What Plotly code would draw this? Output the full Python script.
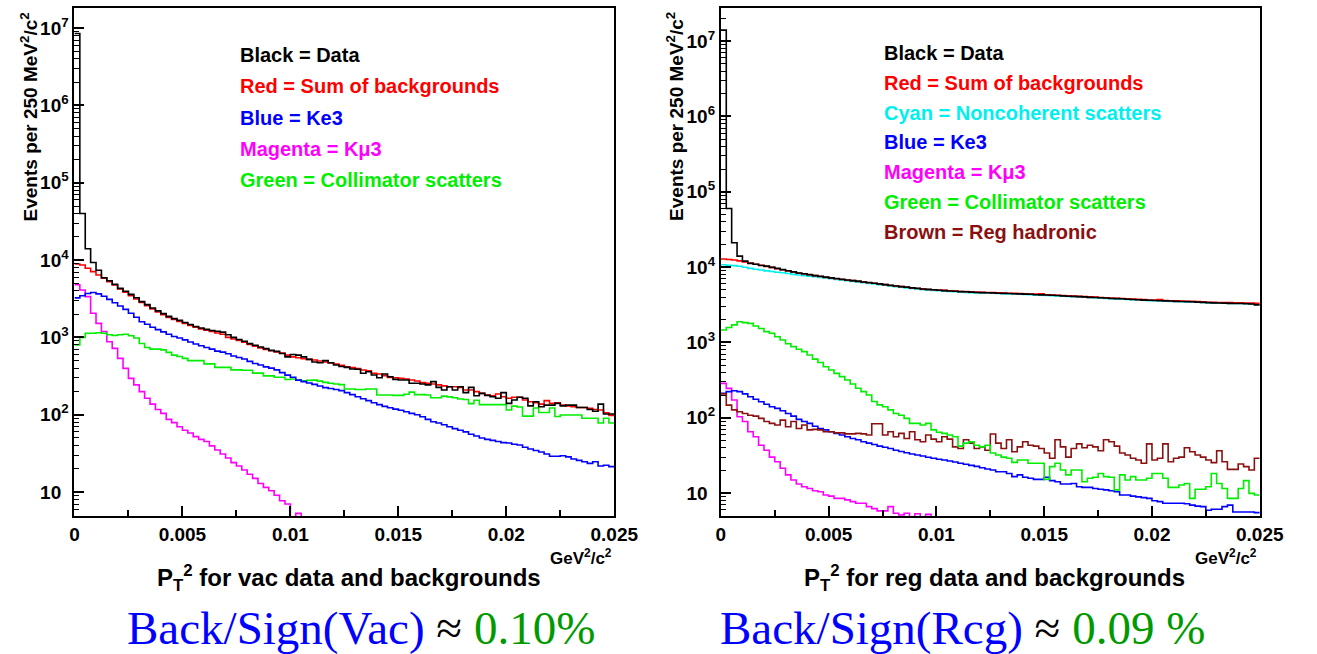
import plotly.graph_objects as go

W, H = 1317, 654
BIN_WIDTH = 0.00025  # 250 MeV^2/c^2 per bin
NBINS = 100

# ---------------- Vacuum beam (left panel) ----------------
vac_data = [8.5e6, 4.0e4, 1.4e4, 9300, 7400, 5900, 5400, 4850, 4300, 3950,
            3600, 3250, 2900, 2650, 2400, 2200, 2030, 1870, 1750, 1660,
            1560, 1470, 1380, 1320, 1270, 1230, 1200, 1170, 1080, 1000,
            940, 890, 830, 790, 750, 715, 680, 660, 620, 560,
            600, 590, 560, 520, 480, 470, 500, 470, 440, 420,
            410, 390, 387, 343, 360, 326, 301, 336, 310, 286,
            281, 281, 255, 255, 250, 243, 268, 226, 209, 230,
            209, 230, 193, 226, 176, 189, 178, 171, 163, 193,
            140, 155, 168, 163, 130, 147, 127, 133, 133, 140,
            130, 133, 133, 124, 124, 117, 111, 137, 102, 102]
vac_sum = [8900, 8650, 7830, 7090, 6420, 5810, 5260, 4760, 4220, 3830,
           3470, 3140, 2840, 2570, 2330, 2130, 1970, 1810, 1710, 1610,
           1520, 1430, 1350, 1290, 1240, 1190, 1140, 1100, 1000, 955,
           910, 865, 810, 770, 730, 700, 672, 648, 625, 590,
           560, 545, 530, 520, 510, 495, 480, 466, 453, 435,
           418, 406, 394, 379, 371, 343, 336, 320, 304, 301,
           295, 290, 281, 273, 260, 255, 250, 243, 236, 230,
           230, 226, 209, 209, 199, 189, 180, 176, 185, 171,
           163, 168, 168, 155, 147, 143, 137, 152, 140, 143,
           133, 130, 127, 124, 124, 121, 117, 115, 106, 98]
vac_ke3 = [3240, 3450, 3700, 3800, 3650, 3400, 3100, 2800, 2550, 2300,
           2050, 1820, 1590, 1480, 1350, 1260, 1180, 1100, 1025, 980,
           930, 870, 820, 780, 740, 705, 665, 645, 615, 575,
           550, 525, 490, 460, 440, 415, 400, 380, 350, 325,
           305, 280, 268, 257, 247, 235, 224, 218, 212, 205,
           193, 182, 171, 161, 152, 143, 135, 128, 123, 118,
           114, 109, 104, 100, 94, 87, 81, 78, 74, 70,
           66, 63, 60, 56, 53, 50, 48, 46.5, 45, 43.5,
           43, 41.5, 40.5, 38, 36, 34.5, 33, 31, 29, 29,
           29.5, 28.5, 26.8, 25.7, 24.6, 23.5, 24.6, 21.7, 22.2, 21.3]
vac_kmu3 = [4800, 4100, 3370, 2050, 1520, 1190, 880, 720, 536, 398,
            295, 243, 199, 163, 137, 117, 104, 87, 79, 70,
            63, 58, 52, 48, 45, 39.5, 35, 31, 27.5, 24,
            21.7, 19.3, 17, 15, 12.9, 11.5, 10.4, 9.1, 7.7, 7.0,
            3, 5.3, 2, 2, 2, 2, 2, 2, 2, 2,
            2, 2, 2, 2, 2, 2, 2, 2, 2, 2,
            2, 2, 2, 2, 2, 2, 2, 2, 2, 2,
            2, 2, 2, 2, 2, 2, 2, 2, 2, 2,
            2, 2, 2, 2, 2, 2, 2, 2, 2, 2,
            2, 2, 2, 2, 2, 2, 2, 2, 2, 2]
vac_coll = [800, 1000, 1130, 1130, 1150, 1130, 1080, 1060, 1080, 1100,
            1050, 980, 835, 740, 705, 705, 690, 640, 590, 565,
            535, 500, 500, 500, 455, 455, 410, 410, 410, 380,
            380, 375, 375, 345, 345, 318, 318, 305, 305, 285,
            290, 280, 275, 278, 280, 272, 262, 255, 250, 245,
            215, 215, 212, 212, 215, 215, 180, 180, 180, 178,
            178, 184, 196, 182, 182, 180, 166, 166, 174, 170,
            166, 160, 157, 139, 154, 135, 135, 135, 135, 135,
            115, 129, 126, 96, 96, 122, 107, 107, 122, 95,
            99, 99, 99, 99, 90, 90, 90, 78, 90, 78]

# ---------------- Regenerator beam (right panel) ----------------
reg_data = [1.4e7, 6.0e4, 2.1e4, 14000, 12000, 11200, 10900, 10500, 10300, 9900,
            9600, 9250, 8950, 8650, 8350, 8150, 7950, 7700, 7550, 7350,
            7200, 7050, 6900, 6750, 6600, 6500, 6350, 6250, 6100, 5980,
            5850, 5750, 5620, 5500, 5420, 5300, 5230, 5120, 5060, 4990,
            4930, 4870, 4820, 4780, 4720, 4700, 4650, 4600, 4580, 4560,
            4550, 4500, 4480, 4460, 4430, 4410, 4380, 4350, 4300, 4270,
            4250, 4230, 4200, 4150, 4100, 4080, 4050, 4020, 3960, 3950,
            3920, 3880, 3830, 3810, 3790, 3740, 3720, 3690, 3640, 3620,
            3600, 3570, 3560, 3540, 3500, 3490, 3480, 3460, 3430, 3400,
            3370, 3350, 3330, 3320, 3300, 3280, 3280, 3260, 3230, 3150]
reg_sum = [12800, 12600, 12400, 12100, 11700, 11300, 10900, 10600, 10200, 9900,
           9500, 9200, 8900, 8600, 8300, 8100, 7900, 7700, 7500, 7300,
           7150, 7000, 6850, 6700, 6600, 6450, 6350, 6200, 6100, 5950,
           5850, 5700, 5600, 5500, 5400, 5300, 5200, 5100, 5050, 5000,
           4950, 4900, 4850, 4800, 4750, 4720, 4680, 4650, 4620, 4600,
           4580, 4550, 4530, 4500, 4480, 4450, 4420, 4400, 4370, 4420,
           4290, 4260, 4230, 4190, 4150, 4120, 4080, 4050, 4020, 3990,
           3950, 3920, 3880, 3850, 3820, 3790, 3760, 3730, 3700, 3660,
           3640, 3700, 3600, 3580, 3560, 3540, 3520, 3500, 3480, 3450,
           3420, 3400, 3390, 3380, 3370, 3360, 3350, 3340, 3320, 3300]
reg_noncoh = [10750, 10600, 10450, 10250, 9950, 9600, 9350, 9150, 8900, 8750,
              8550, 8400, 8200, 8000, 7850, 7700, 7550, 7450, 7300, 7150,
              7000, 6860, 6720, 6570, 6470, 6320, 6220, 6080, 5980, 5830,
              5730, 5590, 5490, 5390, 5290, 5190, 5100, 5000, 4950, 4900,
              4850, 4800, 4750, 4700, 4650, 4620, 4580, 4550, 4520, 4500,
              4490, 4460, 4440, 4410, 4390, 4360, 4330, 4310, 4280, 4240,
              4200, 4170, 4150, 4110, 4070, 4040, 4000, 3970, 3940, 3910,
              3870, 3840, 3800, 3770, 3740, 3710, 3680, 3660, 3630, 3590,
              3570, 3550, 3530, 3510, 3490, 3470, 3450, 3430, 3410, 3380,
              3350, 3330, 3320, 3310, 3300, 3290, 3280, 3270, 3250, 3230]
reg_ke3 = [211, 222, 228, 222, 207, 190, 176, 163, 151, 140,
           133, 124, 114, 105, 95, 89, 84, 77, 72, 69,
           65, 62, 59, 56, 53, 51, 48, 46, 44, 42,
           40.5, 39, 37, 35.6, 34.3, 33, 32, 31, 29.8, 29,
           28.1, 27.4, 26.6, 25.8, 24.8, 24.1, 23.3, 22.6, 21.7, 20.8,
           20.2, 19.2, 19.2, 18.2, 16.5, 17.4, 16.2, 15.7, 15.2, 15.2,
           16.2, 14.6, 14.1, 13.2, 13.2, 13.4, 12.1, 11.9, 11.9, 11.5,
           11.2, 11.0, 10.7, 10.4, 9.4, 9.4, 9.1, 8.9, 8.7, 8.5,
           7.9, 7.7, 7.3, 7.3, 7.3, 7.3, 7.2, 6.9, 6.7, 6.6,
           5.9, 6.1, 6.1, 6.6, 6.9, 5.6, 5.6, 5.6, 5.6, 5.5]
reg_kmu3 = [286, 245, 172, 103, 89, 65, 56, 43, 37, 30,
            26, 21.3, 17.4, 14.9, 13.2, 12.1, 11.5, 10.7, 10.4, 9.4,
            9.1, 8.5, 8.5, 8.1, 7.7, 7.3, 7.3, 6.6, 6.2, 5.8,
            5.8, 6.6, 5.4, 5.1, 5.4, 4, 5.3, 4, 5.2, 4,
            2, 2, 2, 2, 2, 2, 2, 2, 2, 2,
            2, 2, 2, 2, 2, 2, 2, 2, 2, 2,
            2, 2, 2, 2, 2, 2, 2, 2, 2, 2,
            2, 2, 2, 2, 2, 2, 2, 2, 2, 2,
            2, 2, 2, 2, 2, 2, 2, 2, 2, 2,
            2, 2, 2, 2, 2, 2, 2, 2, 2, 2]
reg_coll = [1460, 1580, 1710, 1880, 1830, 1790, 1650, 1530, 1390, 1320,
            1190, 1077, 960, 878, 810, 755, 680, 600, 540, 476,
            430, 388, 351, 317, 280, 246, 222, 200, 164, 148,
            140, 127, 114, 108, 98, 84, 84, 80, 84, 69,
            64, 62, 59, 56, 42, 46, 48, 43, 41, 43,
            34, 32, 30, 29, 25.5, 27.4, 27.4, 24.8, 24.8, 24.8,
            15.2, 22.4, 24.8, 20.2, 17.4, 20.2, 20.2, 14.1, 15.7, 16.2,
            18.2, 16.5, 16.2, 11.0, 17.4, 14.9, 16.5, 14.9, 14.9, 15.7,
            18.2, 18.2, 15.7, 11.9, 11.9, 12.8, 13.4, 8.5, 11.2, 11.2,
            12.1, 18.2, 13.4, 11.5, 8.5, 8.5, 11.5, 14.6, 9.9, 9.4]
reg_hadronic = [207, 147, 127, 120, 114, 108, 105, 98, 89, 84,
                80, 93, 76, 89, 72, 80, 69, 70, 69, 65,
                65, 63, 63, 61, 61, 62, 61, 59, 83, 83,
                59, 65, 56, 62, 53, 65, 51, 48, 59, 52,
                48, 56, 52, 41, 39, 51, 46, 39, 41, 37,
                60.8, 46, 39, 51, 35.4, 41, 48, 43, 42, 39,
                34, 29, 51, 41, 30, 39, 45, 40, 43, 41,
                36.5, 51, 48, 42, 34, 32, 29, 27.4, 24.8, 45,
                27.4, 29, 45, 26, 29, 30, 40, 35.4, 32, 30,
                27.4, 25.3, 36.5, 26, 20.6, 20.6, 24.3, 22.4, 20.2, 29]

x_ticks = [0, 0.005, 0.01, 0.015, 0.02, 0.025]
x_ticklabels = ["0", "0.005", "0.01", "0.015", "0.02", "0.025"]
x_minor = [0.0025, 0.0075, 0.0125, 0.0175, 0.0225]
y_ticks = [10, 100, 1e3, 1e4, 1e5, 1e6, 1e7]
y_ticklabels = ["10<sup><span style='color:rgba(0,0,0,0)'>0</span></sup>",
                "10<sup>2</sup>", "10<sup>3</sup>", "10<sup>4</sup>",
                "10<sup>5</sup>", "10<sup>6</sup>", "10<sup>7</sup>"]
y_minor = [m * 10 ** k for k in range(0, 8) for m in range(2, 10)]

vac_legend = [("Black = Data", "#000000"),
              ("Red = Sum of backgrounds", "#ff0000"),
              ("Blue = Ke3", "#0000ff"),
              ("Magenta = K\u03bc3", "#ff00ff"),
              ("Green = Collimator scatters", "#00ee00")]
reg_legend = [("Black = Data", "#000000"),
              ("Red = Sum of backgrounds", "#ff0000"),
              ("Cyan = Noncoherent scatters", "#00f0f0"),
              ("Blue = Ke3", "#0000ff"),
              ("Magenta = K\u03bc3", "#ff00ff"),
              ("Green = Collimator scatters", "#00ee00"),
              ("Brown = Reg hadronic", "#8b1010")]

edges = [i * BIN_WIDTH for i in range(NBINS + 1)]

fig = go.Figure()


def add_hist(vals, color, xa, ya):
    fig.add_trace(go.Scatter(
        x=edges, y=list(vals) + [vals[-1]], mode="lines",
        line=dict(color=color, width=1.6, shape="hv"),
        xaxis=xa, yaxis=ya, showlegend=False, hoverinfo="skip"))


for vals, col in [(vac_kmu3, "#ff00ff"), (vac_coll, "#00ee00"), (vac_ke3, "#0000ff"),
                  (vac_sum, "#ff0000"), (vac_data, "#000000")]:
    add_hist(vals, col, "x", "y")
for vals, col in [(reg_kmu3, "#ff00ff"), (reg_ke3, "#0000ff"), (reg_hadronic, "#8b1010"),
                  (reg_coll, "#00ee00"), (reg_noncoh, "#00f0f0"),
                  (reg_sum, "#ff0000"), (reg_data, "#000000")]:
    add_hist(vals, col, "x2", "y2")

FONT = "Liberation Sans, Arial, Helvetica, sans-serif"
tickfont = dict(family=FONT, size=19, color="black", weight="bold")


def xaxis_cfg(domain, anchor):
    return dict(domain=domain, anchor=anchor, range=[0, 0.025],
                showline=True, linecolor="black", linewidth=2, mirror=True,
                ticks="inside", tickvals=x_ticks, ticktext=x_ticklabels,
                ticklen=10, tickwidth=1.5, tickcolor="black",
                minor=dict(tickvals=x_minor, ticks="inside", ticklen=6,
                           tickwidth=1.5, tickcolor="black"),
                showgrid=False, zeroline=False, tickfont=tickfont, fixedrange=True)


def yaxis_cfg(rng, anchor):
    return dict(domain=[1 - 516 / H, 1 - 8 / H], anchor=anchor, type="log", range=rng,
                showline=True, linecolor="black", linewidth=2, mirror=True,
                ticks="inside", tickvals=y_ticks, ticktext=y_ticklabels,
                ticklen=10, tickwidth=1.5, tickcolor="black",
                minor=dict(tickvals=y_minor, ticks="inside", ticklen=5,
                           tickwidth=1, tickcolor="black"),
                showgrid=False, zeroline=False, tickfont=tickfont, fixedrange=True)


ann = []


def px_ann(text, x, y, size, color="black", xanchor="left", angle=0, family=FONT, bold=True):
    ann.append(dict(text=text, x=x / W, y=1 - y / H, xref="paper", yref="paper",
                    xanchor=xanchor, yanchor="middle", showarrow=False, textangle=angle,
                    font=dict(family=family, size=size, color=color,
                              weight="bold" if bold else "normal")))


for i, (t, c) in enumerate(vac_legend):
    px_ann(t, 238, 55 + i * 31.3, 20, c)
for i, (t, c) in enumerate(reg_legend):
    px_ann(t, 897, 53 + i * 29.8, 20, c)

ytitle = "Events per 250 MeV<sup>2</sup>/c<sup>2</sup>"
px_ann(ytitle, 25, 117, 19, angle=-90, xanchor="center")
px_ann(ytitle, 685, 116, 19, angle=-90, xanchor="center")

px_ann("GeV<sup>2</sup>/c<sup>2</sup>", 623, 557, 17, xanchor="right")
px_ann("GeV<sup>2</sup>/c<sup>2</sup>", 1282, 557, 17, xanchor="right")

px_ann("P<sub>T</sub><sup>2</sup> for vac data and backgrounds", 352, 578, 24, xanchor="center")
px_ann("P<sub>T</sub><sup>2</sup> for reg data and backgrounds", 1012, 578, 24, xanchor="center")

SERIF = "Liberation Serif, Times New Roman, serif"
px_ann("<span style='color:#0000ff'>Back/Sign(Vac)</span> \u2248 "
       "<span style='color:#009a00'>0.10%</span>", 364, 628, 47, xanchor="center",
       family=SERIF, bold=False)
px_ann("<span style='color:#0000ff'>Back/Sign(Rcg)</span> \u2248 "
       "<span style='color:#009a00'>0.09 %</span>", 979, 628, 47, xanchor="center",
       family=SERIF, bold=False)

fig.update_layout(
    width=W, height=H, margin=dict(l=0, r=0, t=0, b=0),
    paper_bgcolor="white", plot_bgcolor="white", showlegend=False,
    xaxis=xaxis_cfg([71 / W, 623 / W], "y"),
    yaxis=yaxis_cfg([0.69, 7.26], "x"),
    xaxis2=xaxis_cfg([732 / W, 1283 / W], "y2"),
    yaxis2=yaxis_cfg([0.695, 7.44], "x2"),
    annotations=ann,
)

fig.write_html("out.html", config={"displayModeBar": False})
